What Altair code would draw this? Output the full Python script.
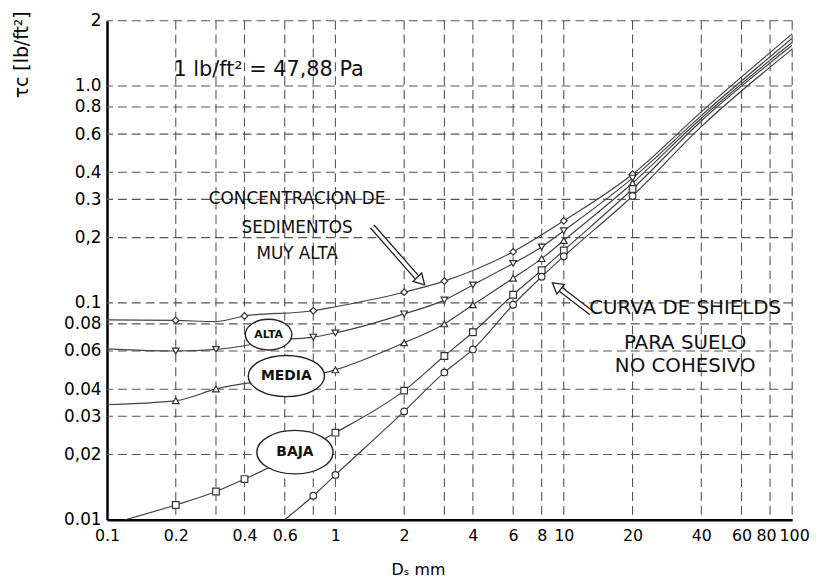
import altair as alt
import pandas as pd

# ---------------- data ----------------
series_names = ["Muy alta", "Alta", "Media", "Baja", "Shields"]

muy_alta_x = [0.1, 0.2, 0.3, 0.4, 0.8, 1, 2, 3, 6, 10, 20, 40, 100]
muy_alta_y = [0.0835, 0.083, 0.082, 0.087, 0.092, 0.096, 0.112, 0.126, 0.172, 0.239, 0.392, 0.76, 1.74]
muy_alta_m = [0, 1, 0, 1, 1, 0, 1, 1, 1, 1, 1, 0, 0]

alta_x = [0.1, 0.2, 0.3, 0.6, 0.8, 1, 2, 3, 4, 6, 8, 10, 20, 40, 100]
alta_y = [0.0614, 0.060, 0.061, 0.0678, 0.0695, 0.0727, 0.089, 0.103, 0.121, 0.152, 0.181, 0.215, 0.376, 0.73, 1.66]
alta_m = [0, 1, 1, 1, 1, 1, 1, 1, 1, 1, 1, 1, 1, 0, 0]

media_x = [0.1, 0.2, 0.3, 1, 2, 3, 4, 6, 8, 10, 20, 40, 100]
media_y = [0.0339, 0.0354, 0.0401, 0.0491, 0.0655, 0.080, 0.098, 0.130, 0.160, 0.194, 0.357, 0.71, 1.59]
media_m = [0, 1, 1, 1, 1, 1, 1, 1, 1, 1, 1, 0, 0]

baja_x = [0.12, 0.2, 0.3, 0.4, 1, 2, 3, 4, 6, 8, 10, 20, 40, 100]
baja_y = [0.01, 0.0117, 0.0135, 0.0154, 0.0252, 0.0394, 0.0569, 0.0732, 0.109, 0.1415, 0.1746, 0.335, 0.69, 1.54]
baja_m = [0, 1, 1, 1, 1, 1, 1, 1, 1, 1, 1, 1, 0, 0]

shields_x = [0.6, 0.8, 1, 2, 3, 4, 6, 8, 10, 20, 40, 100]
shields_y = [0.01, 0.0129, 0.0161, 0.0316, 0.0478, 0.061, 0.098, 0.132, 0.164, 0.311, 0.65, 1.48]
shields_m = [0, 1, 1, 1, 1, 1, 1, 1, 1, 1, 0, 0]

marker_shapes = ["diamond", "triangle-down", "triangle-up", "square", "circle"]

x_tick_values = [0.1, 0.2, 0.4, 0.6, 1, 2, 4, 6, 8, 10, 20, 40, 60, 80, 100]
y_tick_values = [0.01, 0.02, 0.03, 0.04, 0.06, 0.08, 0.1, 0.2, 0.3, 0.4, 0.6, 0.8, 1.0, 2]
x_grid_values = [0.2, 0.3, 0.4, 0.6, 0.8, 1, 2, 3, 4, 6, 8, 10, 20, 40, 60, 80, 100]
y_grid_values = [0.02, 0.03, 0.04, 0.06, 0.08, 0.1, 0.2, 0.3, 0.4, 0.6, 0.8, 1.0, 2]

unit_note = "1 lb/ft² = 47,88 Pa"
unit_note_x = [0.51]
unit_note_y = [1.18]

conc_lines = ["CONCENTRACION DE", "SEDIMENTOS", "MUY ALTA"]
conc_x = [0.68, 0.68, 0.68]
conc_y = [0.30, 0.222, 0.168]

shields_lines = ["CURVA DE SHIELDS", "PARA SUELO", "NO COHESIVO"]
shields_lx = [34, 34, 34]
shields_ly = [0.095, 0.0656, 0.051]

bubble_labels = ["ALTA", "MEDIA", "BAJA"]
bubble_x = [0.51, 0.61, 0.665]
bubble_y = [0.0714, 0.046, 0.0205]

# arrows: start -> shaft end, head centre
arrow_start_x = [1.45, 13.2]
arrow_start_y = [0.225, 0.090]
arrow_end_x = [2.27, 9.66]
arrow_end_y = [0.1315, 0.1158]
arrow_head_x = [2.37, 9.29]
arrow_head_y = [0.1261, 0.1196]
arrow_angle = [136, 308]

# ---------------- tables ----------------
rows = []
for name, xs, ys, ms in zip(
    series_names,
    [muy_alta_x, alta_x, media_x, baja_x, shields_x],
    [muy_alta_y, alta_y, media_y, baja_y, shields_y],
    [muy_alta_m, alta_m, media_m, baja_m, shields_m],
):
    for x, y, m in zip(xs, ys, ms):
        rows.append({"serie": name, "d": x, "tau": y, "marker": m})
df = pd.DataFrame(rows)
df_marks = df[df["marker"] == 1]

FONT = "DejaVu Sans"
xscale = alt.Scale(type="log", domain=[0.1, 100], nice=False)
yscale = alt.Scale(type="log", domain=[0.01, 2], nice=False)

y_label_expr = (
    "datum.value == 0.02 ? '0,02' : datum.value == 0.2 ? '0,2' : "
    "datum.value == 1 ? '1.0' : format(datum.value, '~g')"
)

x_axis = alt.Axis(
    values=x_tick_values, grid=False, ticks=False, domain=True,
    domainColor="black", domainWidth=2.5, labelFont=FONT, labelFontSize=16,
    labelColor="black", labelPadding=8, format="~g", labelFlush=False,
    labelOverlap=False,
    labelOffset={"condition": [
        {"test": "datum.value == 100", "value": 2},
        {"test": "datum.value == 80", "value": -4},
    ], "value": 0},
    title="Dₛ mm", titleFont=FONT, titleFontSize=16, titleFontWeight="normal",
    titleColor="black", titleX=314, titleY=55, titleBaseline="alphabetic",
)
y_axis = alt.Axis(
    values=y_tick_values, grid=False, ticks=False, domain=True,
    domainColor="black", domainWidth=2.5, labelFont=FONT, labelFontSize=17,
    labelColor="black", labelPadding=6, labelExpr=y_label_expr, labelFlush=False,
    labelOverlap=False,
    title="τc [lb/ft²]", titleFont=FONT, titleFontSize=19, titleFontWeight="normal",
    titleColor="black", titleAngle=270, titleAlign="right", titleBaseline="middle",
    titleX=-86, titleY=-10,
)


def X(field):
    return alt.X(field, scale=xscale, axis=x_axis, title="Dₛ mm")


def Y(field):
    return alt.Y(field, scale=yscale, axis=y_axis, title="τc [lb/ft²]")


# grid
gx = alt.Chart(pd.DataFrame({"d": x_grid_values})).mark_rule(
    color="#555", strokeDash=[9, 5], strokeWidth=1.1
).encode(x=X("d:Q"))
gy = alt.Chart(pd.DataFrame({"tau": y_grid_values})).mark_rule(
    color="#555", strokeDash=[9, 5], strokeWidth=1.1
).encode(y=Y("tau:Q"))

lines = alt.Chart(df).mark_line(
    color="#444", strokeWidth=1.2, interpolate="monotone", clip=True
).encode(
    x=X("d:Q"), y=Y("tau:Q"), detail="serie:N", order="d:Q",
)

points = alt.Chart(df_marks).mark_point(
    filled=True, fill="white", stroke="#333", strokeWidth=1.2, size=45, opacity=1
).encode(
    x=X("d:Q"), y=Y("tau:Q"),
    shape=alt.Shape("serie:N", scale=alt.Scale(domain=series_names, range=marker_shapes), legend=None),
)

# bubbles (white ellipses with labels)
bubble_paths = [
    "M-1,0A1,0.66,0,1,0,1,0A1,0.66,0,1,0,-1,0Z",
    "M-1,0A1,0.54,0,1,0,1,0A1,0.54,0,1,0,-1,0Z",
    "M-1,0A1,0.57,0,1,0,1,0A1,0.57,0,1,0,-1,0Z",
]
bubble_widths = [47, 77, 77]
bubble_font = [11, 14, 14]
bubble_layers = []
for i, lab in enumerate(bubble_labels):
    bdf = pd.DataFrame({"label": [lab], "d": [bubble_x[i]], "tau": [bubble_y[i]]})
    bubble_layers.append(
        alt.Chart(bdf).mark_point(
            shape=bubble_paths[i], size=bubble_widths[i] ** 2, filled=True,
            fill="white", stroke="#222", strokeWidth=1.4, opacity=1
        ).encode(x=X("d:Q"), y=Y("tau:Q"))
    )
    bubble_layers.append(
        alt.Chart(bdf).mark_text(
            font=FONT, fontWeight="bold", color="#111", fontSize=bubble_font[i]
        ).encode(x=X("d:Q"), y=Y("tau:Q"), text="label:N")
    )

# arrows
arr_df = pd.DataFrame({
    "x1": arrow_start_x, "y1": arrow_start_y, "x2": arrow_end_x, "y2": arrow_end_y,
    "hx": arrow_head_x, "hy": arrow_head_y, "ang": arrow_angle,
})
arr_base = alt.Chart(arr_df)
shaft_outer = arr_base.mark_rule(color="#222", strokeWidth=6).encode(
    x=X("x1:Q"), y=Y("y1:Q"), x2="x2:Q", y2="y2:Q",
)
shaft_inner = arr_base.mark_rule(color="white", strokeWidth=3.4).encode(
    x=X("x1:Q"), y=Y("y1:Q"), x2="x2:Q", y2="y2:Q",
)
heads = arr_base.mark_point(
    shape="triangle-up", filled=True, fill="white", stroke="#222", strokeWidth=1.3, size=150, opacity=1
).encode(
    x=X("hx:Q"), y=Y("hy:Q"), angle=alt.Angle("ang:Q", scale=None),
)

# texts
note = alt.Chart(pd.DataFrame({"d": unit_note_x, "tau": unit_note_y, "t": [unit_note]})).mark_text(
    font=FONT, fontSize=21, color="#111"
).encode(x=X("d:Q"), y=Y("tau:Q"), text="t:N")
conc = alt.Chart(pd.DataFrame({"d": conc_x, "tau": conc_y, "t": conc_lines})).mark_text(
    font=FONT, fontSize=17, color="#111"
).encode(x=X("d:Q"), y=Y("tau:Q"), text="t:N")
shl = alt.Chart(pd.DataFrame({"d": shields_lx, "tau": shields_ly, "t": shields_lines})).mark_text(
    font=FONT, fontSize=20, color="#111"
).encode(x=X("d:Q"), y=Y("tau:Q"), text="t:N")

chart = alt.layer(
    gx, gy, lines, points, *bubble_layers, shaft_outer, shaft_inner, heads, note, conc, shl
).properties(
    width=692, height=504,
    autosize=alt.AutoSizeParams(type="none"),
    padding={"left": 100, "top": 10, "right": 19, "bottom": 58},
    background="white",
).configure_view(stroke=None)

chart.save("out.html", embed_options={"renderer": "svg", "actions": False})
